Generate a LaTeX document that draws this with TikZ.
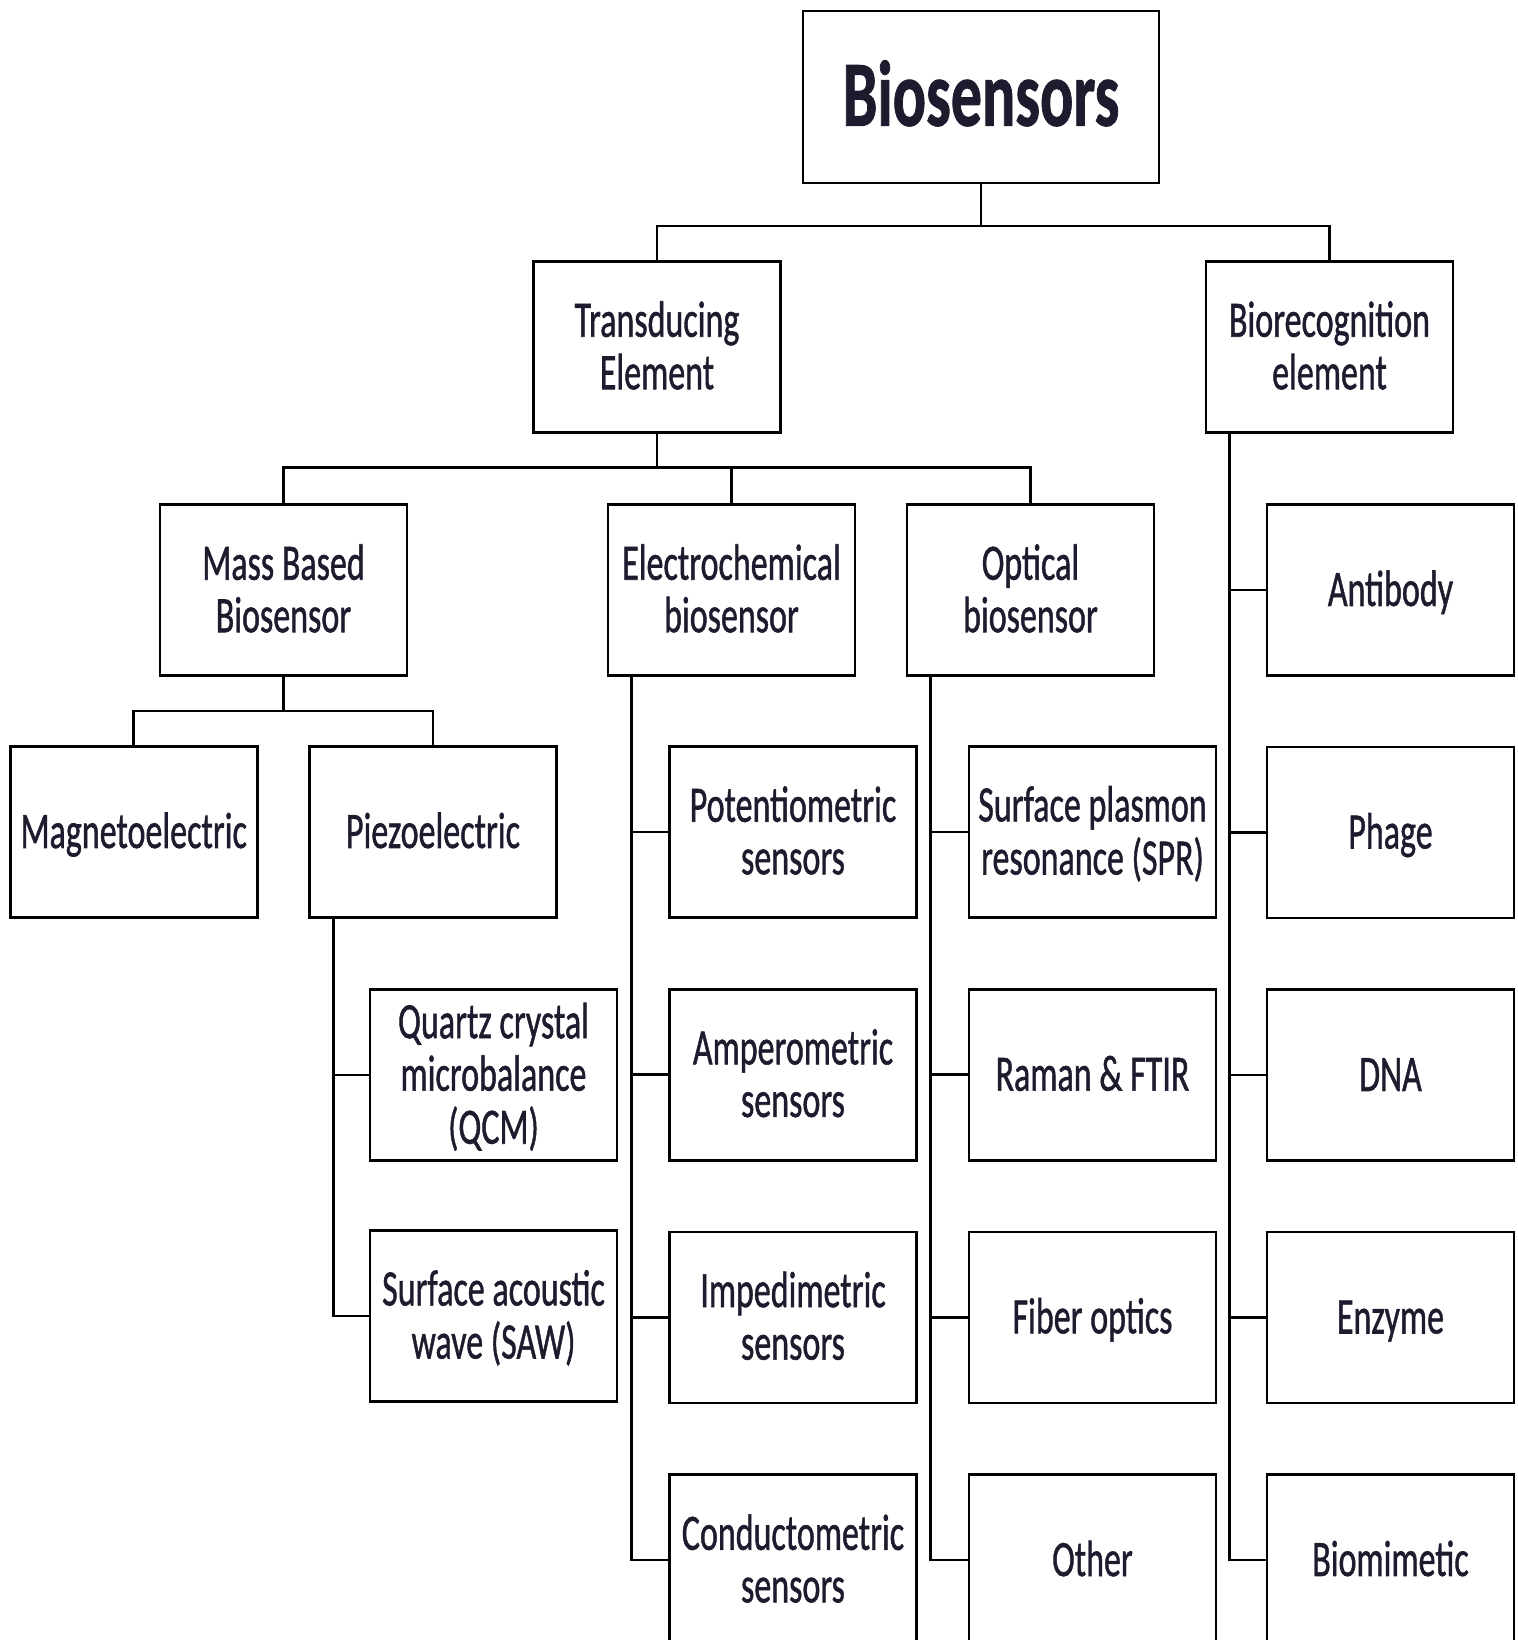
\documentclass[tikz,border=0pt]{standalone}
\usepackage{fontspec}
\setmainfont{Carlito}[FakeBold=1.2]
\usepackage{graphicx}

\definecolor{inkblue}{rgb}{0.11,0.11,0.18}

\newcommand\stretchtext[1]{\raisebox{0pt}[\height][\dimexpr\depth-0.32em\relax]{\scalebox{1}[1.5]{\begin{tabular}{@{}c@{}}#1\end{tabular}}}}

\tikzset{
  box/.style={draw, line width=1.3pt, minimum width=123.5pt, minimum height=85.5pt,
    inner sep=0pt, text=inkblue, font=\fontsize{17}{17.5}\selectfont},
  link/.style={line width=1.3pt},
}

\begin{document}
\begin{tikzpicture}[x=0.5pt, y=-0.5pt]
        \useasboundingbox (0,0) rectangle (1517,1640);

        \node [box, minimum width=178pt, minimum height=86pt, font=\fontsize{31}{31}\selectfont\bfseries] (bio) at (981, 97) {\stretchtext{Biosensors}};

        \node [box] (trans) at (657, 347) {\stretchtext{Transducing\\Element}};
        \node [box] (recog) at (1329.5, 347) {\stretchtext{Biorecognition\\element}};

        \node [box] (mass) at (283.5, 590) {\stretchtext{Mass Based\\Biosensor}};
        \node [box] (electro) at (731.5, 590) {\stretchtext{Electrochemical\\biosensor}};
        \node [box] (optical) at (1030.5, 590) {\stretchtext{Optical\\biosensor}};

        \node [box] (magneto) at (133.7, 832) {\stretchtext{Magnetoelectric}};
        \node [box] (piezo) at (433, 832) {\stretchtext{Piezoelectric}};

        \coordinate (topbus) at (981, 226);
        \coordinate (transbus) at (657, 467.6);
        \coordinate (massbus) at (283.5, 711);

        \draw [link] (bio.south) -- (topbus) -| (trans.north);
        \draw [link] (topbus) -| (recog.north);
        \draw [link] (trans.south) -- (transbus) -| (mass.north);
        \draw [link] (transbus) -| (electro.north);
        \draw [link] (transbus) -| (optical.north);
        \draw [link] (mass.south) -- (massbus) -| (magneto.north);
        \draw [link] (massbus) -| (piezo.north);

        \foreach \nm / \txt [count=\i] in {qcm/{Quartz crystal\\microbalance\\(QCM)}, saw/{Surface acoustic\\wave (SAW)}}{
          \node [box] (\nm) at (493.5, {1075 + 241 * (\i - 1)}) {\stretchtext{\txt}};
          \draw [link] ([xshift=12.5pt]piezo.south west) |- (\nm.west);
        }

        \foreach \nm / \txt [count=\i] in {poten/{Potentiometric\\sensors}, ampero/{Amperometric\\sensors}, imped/{Impedimetric\\sensors}, conduct/{Conductometric\\sensors}}{
          \node [box] (\nm) at (793, {832 + 242.7 * (\i - 1)}) {\stretchtext{\txt}};
          \draw [link] ([xshift=12.5pt]electro.south west) |- (\nm.west);
        }

        \foreach \nm / \txt [count=\i] in {spr/{Surface plasmon\\resonance (SPR)}, raman/{Raman \& FTIR}, fiber/{Fiber optics}, other/{Other}}{
          \node [box] (\nm) at (1092.5, {832 + 242.7 * (\i - 1)}) {\stretchtext{\txt}};
          \draw [link] ([xshift=12.5pt]optical.south west) |- (\nm.west);
        }

        \foreach \nm / \txt [count=\i] in {antibody/{Antibody}, phage/{Phage}, dna/{DNA}, enzyme/{Enzyme}, biomim/{Biomimetic}}{
          \node [box] (\nm) at (1390.5, {590 + 242.5 * (\i - 1)}) {\stretchtext{\txt}};
          \draw [link] ([xshift=12.5pt]recog.south west) |- (\nm.west);
        }
      \end{tikzpicture}
\end{document}
